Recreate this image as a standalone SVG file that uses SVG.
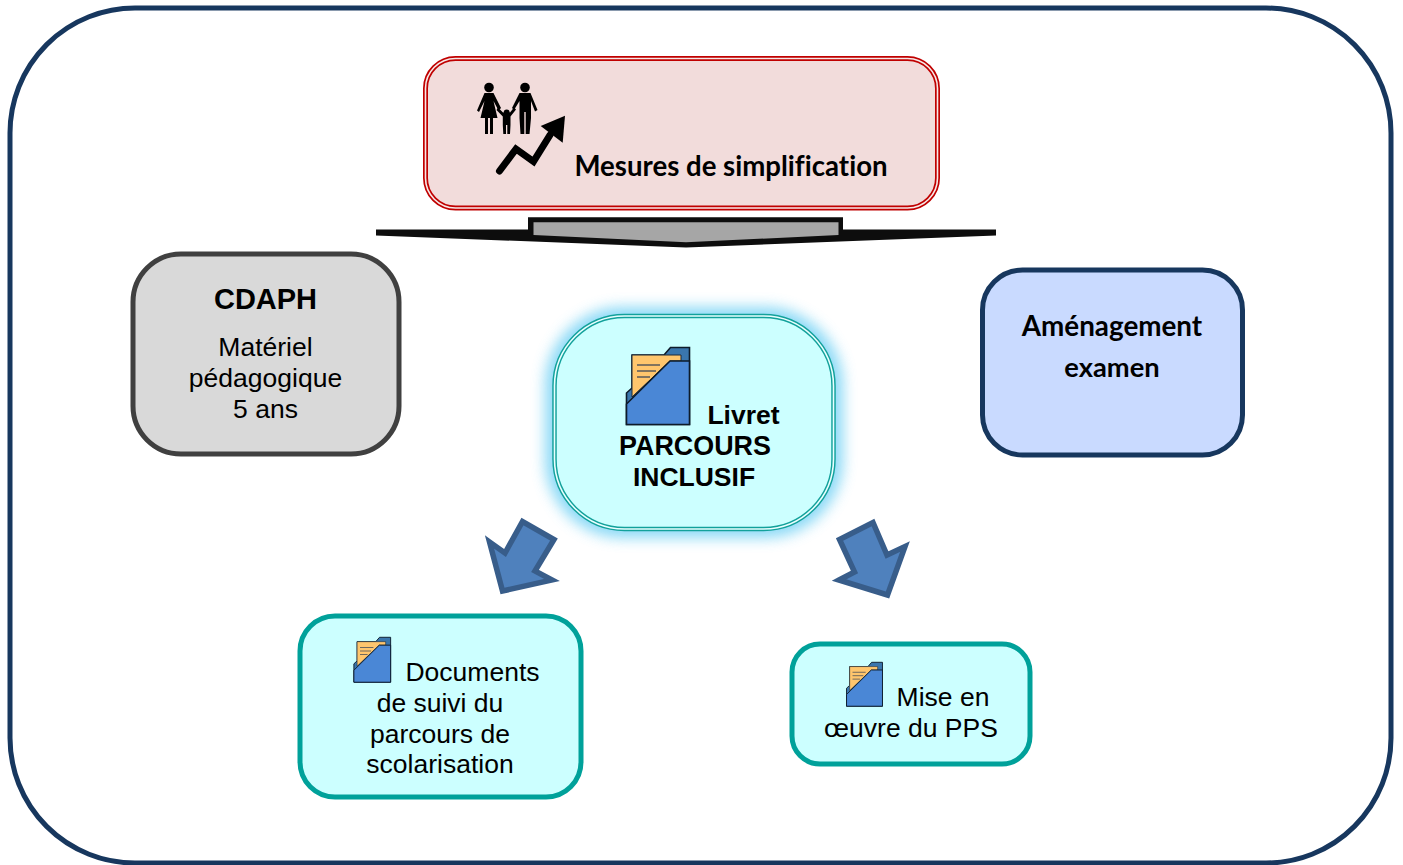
<svg xmlns="http://www.w3.org/2000/svg" width="1403" height="865" viewBox="0 0 1403 865">
<style>
text{font-family:"Liberation Sans",Arial,sans-serif;fill:#000;text-anchor:middle}
.b{font-weight:bold}
.l{font-family:Lato,"Liberation Sans",sans-serif;font-weight:bold;font-variant-ligatures:none}
.t{font-size:26.5px}
.arrow{fill:#4f81bd;stroke:#385d8a;stroke-width:5.500;stroke-linejoin:miter;stroke-miterlimit:10}
.gap{fill:none;stroke-width:1.600}
</style>
<defs>
<filter id="glow" x="-20%" y="-20%" width="140%" height="140%"><feGaussianBlur stdDeviation="7"/></filter>
<symbol id="folder" viewBox="0 0 64 78" overflow="visible">
<path d="M0.500 77.500V46L6 41V8H38L44.500 .5H63.500V77.500Z" fill="#3a76ad" stroke="#0d1b2a" stroke-width="1.600"/>
<path d="M6 8H55V14H44L6 50Z" fill="#ffc66d" stroke="#1c2a3a" stroke-width="1"/>
<path d="M11 18H34M11 24H30M11 30H24" stroke="#5a5a5a" stroke-width="1.500" fill="none"/>
<path d="M0.500 77.500V57L44 14H63.500V77.500Z" fill="#4a87d6" stroke="#0d1b2a" stroke-width="1.600"/>
</symbol>
</defs>
<rect width="1403" height="865" fill="#fff"/>
<g id="frame"><rect x="10" y="8" width="1381" height="855" rx="125" fill="#fff" stroke="#17375e" stroke-width="5"/></g>
<g id="connectors">
<polygon points="376,229.500 528,229.500 528,217.300 843,217.300 843,229.500 996,229.500 996,235.500 686,247.500 376,235.500" fill="#0d0d0d"/>
<polygon points="533.500,222.300 838.500,222.300 838.500,235 686,242.300 533.500,235" fill="#a6a6a6"/>
<polygon class="arrow" points="489.500,542 505,553 522.500,521.500 554,539.500 535,571 552,580 502.500,591"/>
<polygon class="arrow" points="839,580 854.500,572 839.500,539.500 873,522.500 887,555 905,546.500 887.500,595"/>
</g>
<g id="mesures">
<rect x="425.500" y="58.500" width="512" height="149.500" rx="30" fill="#f2dcdb" stroke="#c00000" stroke-width="5"/>
<rect x="425.500" y="58.500" width="512" height="149.500" rx="30" class="gap" stroke="#f7e9e8"/>
<g fill="#000">
<circle cx="489" cy="87.500" r="4.800"/><circle cx="525" cy="87.500" r="4.800"/><circle cx="506.700" cy="112.500" r="3"/>
<path d="M484.500 93H493.500L501 108L498.500 110.500L493.500 101L497.500 118H493V134H490V118H488V134H485V118H480.500L484.500 101L479 112L477 110.500Z"/>
<path d="M519.500 93H530.500L537.500 110L535 111.500L531 101V118L529.500 134H525.700V112H524.300V134H520.500L519.500 118V101L514 110L512 108Z"/>
<path d="M498 107.500L503 112.500H510L514 107.500L516 109.500L510.500 116.500V125L510 134H507.300V125H506V134H503.300L502.800 125V116.500L496.500 110Z"/>
</g>
<polyline points="499.500,171 516,149 533.500,161.500 550,135" fill="none" stroke="#000" stroke-width="7" stroke-linecap="round"/>
<polygon points="565,115.700 540.700,126 562.700,142.700"/>
<text class="l" x="731" y="175.500" font-size="27.600">Mesures de simplification</text>
</g>
<g id="cdaph">
<rect x="133" y="254" width="266" height="200" rx="48" fill="#d9d9d9" stroke="#404040" stroke-width="5"/>
<text class="b" x="265.500" y="308.500" font-size="29">CDAPH</text>
<text class="t" x="265.500" y="356">Matériel</text>
<text class="t" x="265.500" y="387">pédagogique</text>
<text class="t" x="265.500" y="418">5 ans</text>
</g>
<g id="amenagement">
<rect x="982.500" y="270" width="260" height="185" rx="40" fill="#c9daff" stroke="#17375e" stroke-width="5"/>
<text class="l" x="1112" y="335.500" font-size="27.800">Aménagement</text>
<text class="l" x="1112" y="377" font-size="27.300">examen</text>
</g>
<g id="livret">
<rect x="545" y="307" width="298" height="231" rx="78" fill="#6fd0f4" opacity=".8" filter="url(#glow)"/>
<rect x="554.500" y="316" width="279" height="213" rx="70" fill="#ccffff" stroke="#12a19b" stroke-width="4.500"/>
<rect x="554.500" y="316" width="279" height="213" rx="70" class="gap" stroke="#e8ffff"/>
<use href="#folder" x="626" y="347" width="64" height="78"/>
<text class="b t" x="743.500" y="424">Livret</text>
<text class="b" font-size="26.900" x="695" y="454.500">PARCOURS</text>
<text class="b t" x="694" y="486">INCLUSIF</text>
</g>
<g id="documents">
<rect x="300" y="616" width="281" height="181" rx="35" fill="#ccffff" stroke="#00a19a" stroke-width="5"/>
<use href="#folder" x="353.500" y="637" width="37.500" height="45.500"/>
<text class="t" x="472.500" y="681">Documents</text>
<text class="t" x="440" y="712">de suivi du</text>
<text class="t" x="440" y="743">parcours de</text>
<text class="t" x="440" y="773">scolarisation</text>
</g>
<g id="pps">
<rect x="792" y="644" width="238" height="120" rx="28" fill="#ccffff" stroke="#00a19a" stroke-width="5"/>
<use href="#folder" x="846" y="662" width="37" height="44.500"/>
<text class="t" x="943" y="706">Mise en</text>
<text class="t" x="911" y="737">œuvre du PPS</text>
</g>
</svg>
